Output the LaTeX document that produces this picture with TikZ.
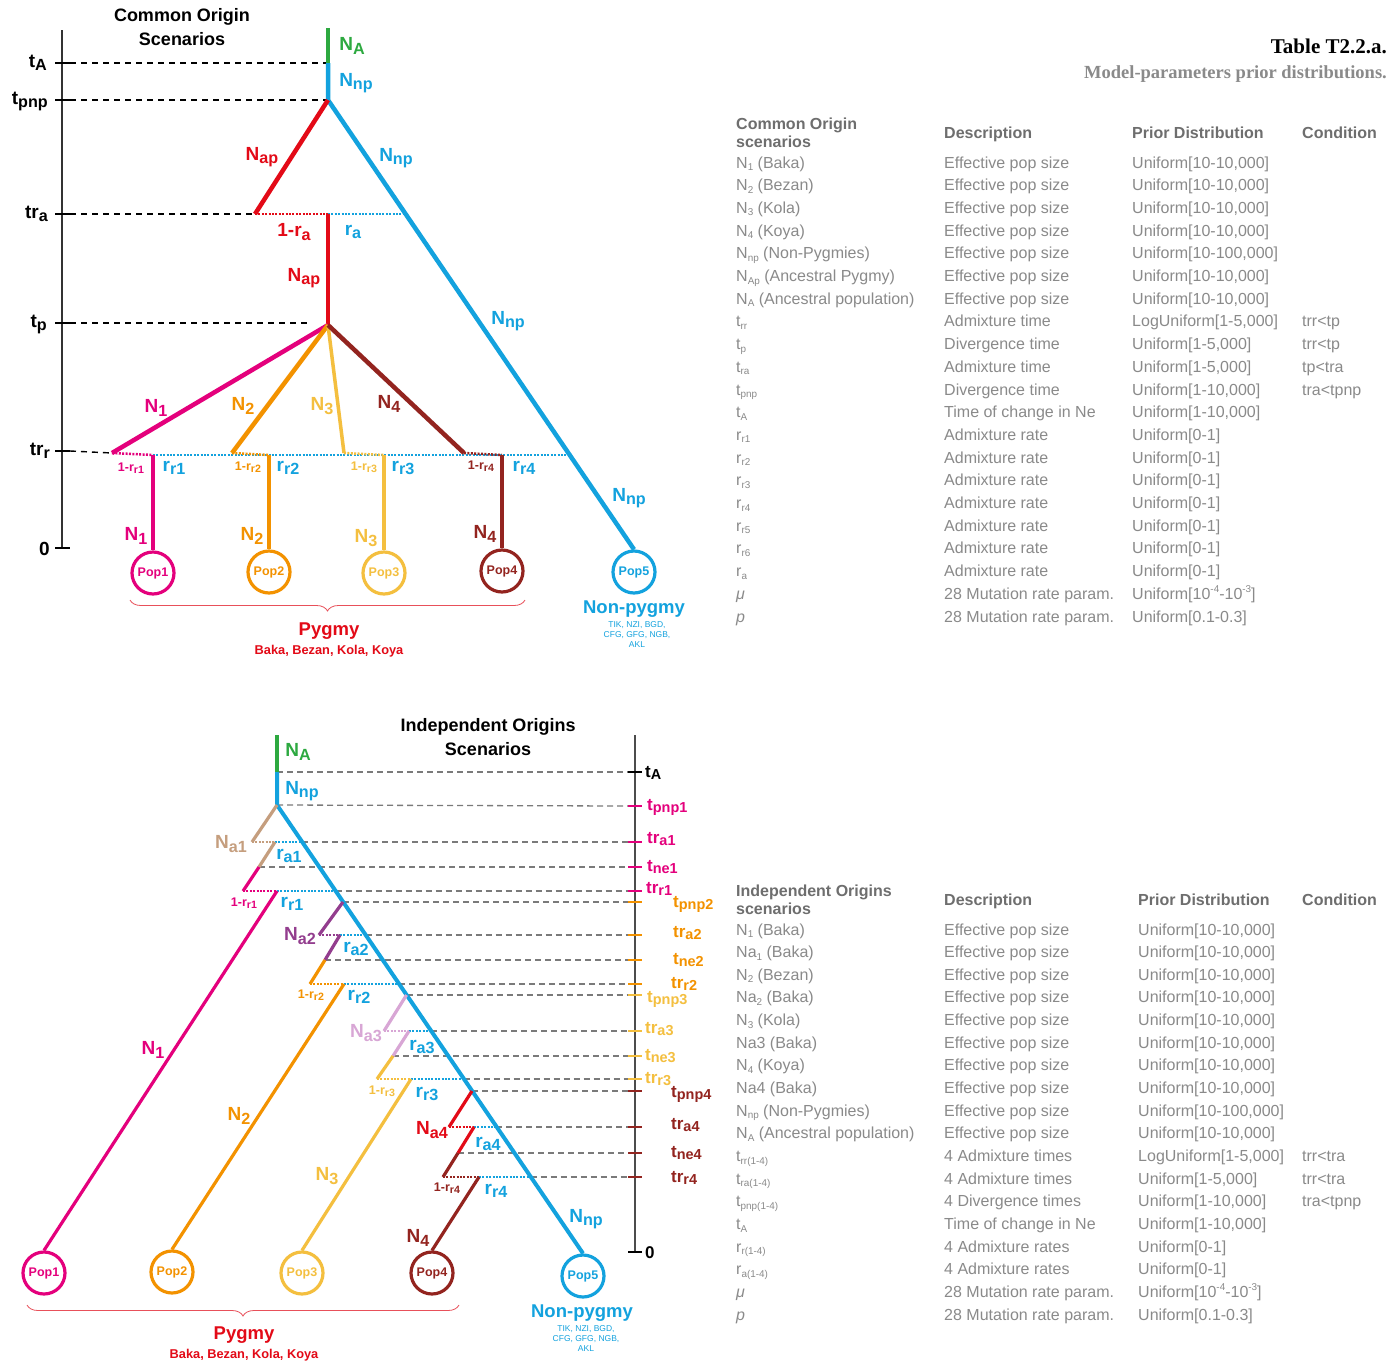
\documentclass[tikz,border=0pt]{standalone}
\usepackage{fontspec}
\setmainfont{Liberation Sans}
\newfontfamily\serifb{Liberation Serif}
\usetikzlibrary{decorations.pathreplacing}
\definecolor{cgreen}{HTML}{2DA940}
\definecolor{cblue}{HTML}{13A2DE}
\definecolor{cred}{HTML}{E30A17}
\definecolor{cpink}{HTML}{E4007C}
\definecolor{corange}{HTML}{F39200}
\definecolor{cyellow}{HTML}{F4BF3F}
\definecolor{cbrown}{HTML}{93241F}
\definecolor{ctan}{HTML}{C59E7E}
\definecolor{cpurple}{HTML}{933D8E}
\definecolor{clav}{HTML}{D8A6D5}
\definecolor{tgray}{HTML}{8A8A8A}
\definecolor{thgray}{HTML}{6E6E6E}
\definecolor{dgray}{HTML}{7A7A7A}
\definecolor{bracered}{HTML}{E8505A}
\newcommand\lo[1]{\raisebox{-0.32ex}{\scalebox{0.85}{#1}}}
\newcommand\tsb[1]{\raisebox{-0.3ex}{\scalebox{0.62}{#1}}}
\newcommand\tsp[1]{\raisebox{0.85ex}{\scalebox{0.62}{#1}}}
\def\px{1132}
\newcommand\trow[5]{%
  \node[tc] (#1p) at (736,#2) {#3};
  \node[tc] (#1d) at (944,#2) {#4};
  \node[tc] (#1u) at (\px,#2) {#5};}
\tikzset{
  lab/.style={font=\fontsize{19}{20}\selectfont\bfseries, inner sep=0},
  blab/.style={font=\fontsize{17}{18}\selectfont\bfseries, inner sep=0},
  glab/.style={font=\fontsize{18.5}{20}\selectfont\bfseries, inner sep=0},
  slab/.style={font=\fontsize{12.5}{13}\selectfont\bfseries, inner sep=0},
  ttl/.style={font=\fontsize{18}{20}\selectfont\bfseries, inner sep=0},
  tc/.style={anchor=base west, inner sep=0, text=tgray, font=\fontsize{16}{18}\selectfont},
  th/.style={anchor=base west, inner sep=0, text=thgray, font=\fontsize{16}{18}\selectfont\bfseries},
  pop/.style={circle, draw=#1, text=#1, line width=3.2, minimum size=42, inner sep=0, font=\fontsize{12.5}{13}\selectfont\bfseries},
  br/.style={line width=4.5},
  bb/.style={line width=3.2},
  dt/.style={line width=2.5, dash pattern=on 2pt off 1.4pt},
  dsh/.style={black, line width=1.4, dash pattern=on 6pt off 5pt},
  gdsh/.style={dgray, line width=1.3, dash pattern=on 6pt off 4pt},
  tick/.style={line width=1.6},
  smallc/.style={font=\fontsize{12.8}{13}\selectfont\bfseries, text=cred, inner sep=0},
  tinyc/.style={font=\fontsize{8.5}{10}\selectfont, text=cblue, align=center, inner sep=0},
}
\begin{document}
\begin{tikzpicture}[x=1pt,y=-1pt]
\useasboundingbox (0,0) rectangle (1398,1363);
\fill[white] (0,0) rectangle (1398,1363);

%%%%%%%%%%%%%%%% TOP DIAGRAM %%%%%%%%%%%%%%%%
\node[ttl] (ttop1) at (182,17) {Common Origin};
\node[ttl] (ttop2) at (182,39) {Scenarios};

% axis
\coordinate (ax0) at (62,30);
\coordinate (ax1) at (62,548);
\draw[line width=1.2, black!80] (ax0) -- (ax1);
\foreach \yy in {63,100,214,323,451,548} \draw[tick] (55,\yy) -- (70,\yy);
\node[lab, anchor=base east] (ltA) at (47,67) {t\lo{A}};
\node[lab, anchor=base east] (ltpnp) at (48,104) {t\lo{pnp}};
\node[lab, anchor=base east] (ltra) at (48,218) {tr\lo{a}};
\node[lab, anchor=base east] (ltp) at (47,327) {t\lo{p}};
\node[lab, anchor=base east] (ltrr) at (50,455) {tr\lo{r}};
\node[lab, anchor=base east] (lt0) at (50,555) {0};

% pops
\node[pop=cpink] (p1) at (153,573) {Pop1};
\node[pop=corange] (p2) at (269,572) {Pop2};
\node[pop=cyellow] (p3) at (384,573) {Pop3};
\node[pop=cbrown] (p4) at (502,571) {Pop4};
\node[pop=cblue] (p5) at (634,572) {Pop5};

% tree coordinates
\coordinate (A0) at (328,28);
\coordinate (A1) at (328,63);
\coordinate (P0) at (328,100);
\coordinate (Ra) at (255,214);
\coordinate (Rm) at (328,214);
\coordinate (Rb) at (405.5,214);
\coordinate (Tp) at (328,325);
\coordinate (E1) at (112,453);
\coordinate (E2) at (232,453);
\coordinate (E3) at (344,453);
\coordinate (E4) at (464,453);
\coordinate (V1) at (153,455);
\coordinate (V2) at (269,455);
\coordinate (V3) at (384,455);
\coordinate (V4) at (502,455);
\coordinate (Bt) at (569,455);

% dashed time lines
\draw[dsh] (70,63) -- (A1);
\draw[dsh] (70,100) -- (P0);
\draw[dsh] (70,214) -- (Ra);
\draw[dsh] (70,323) -- (310,323);
\draw[dsh] (70,451) -- (E1);

% dotted admixture
\draw[dt,cred] (Ra) -- (Rm);
\draw[dt,cblue] (Rm) -- (Rb);
\draw[dt,cblue] (V1) -- (Bt);
\draw[dt,cpink] (E1) -- (V1);
\draw[dt,corange] (E2) -- (V2);
\draw[dt,cyellow] (E3) -- (V3);
\draw[dt,cbrown] (E4) -- (V4);

% branches
\draw[br,cgreen] (A0) -- (A1);
\draw[br,cblue,line join=round] (A1) -- (P0) -- (p5.north);
\draw[br,cred] (P0) -- (Ra);
\draw[br,cred] (Rm) -- (Tp);
\draw[br,cpink] (Tp) -- (E1);
\draw[br,corange] (Tp) -- (E2);
\draw[line width=3.5,cyellow] (Tp) -- (E3);
\draw[br,cbrown] (Tp) -- (E4);
\draw[br,cpink] (V1) -- (p1.north);
\draw[br,corange] (V2) -- (p2.north);
\draw[br,cyellow] (V3) -- (p3.north);
\draw[br,cbrown] (V4) -- (p4.north);

% labels
\node[lab,text=cgreen] (lNA) at (352,46) {N\lo{A}};
\node[lab,text=cblue] (lNnp0) at (356,83) {N\lo{np}};
\node[lab,text=cred] (lNap1) at (262,157) {N\lo{ap}};
\node[lab,text=cblue] (lNnp1) at (396,158) {N\lo{np}};
\node[lab,text=cred] (l1ra) at (294,232) {1-r\lo{a}};
\node[lab,text=cblue] (lra) at (353,232) {r\lo{a}};
\node[lab,text=cred] (lNap2) at (304,278) {N\lo{ap}};
\node[lab,text=cblue] (lNnp2) at (508,321) {N\lo{np}};
\node[lab,text=cblue] (lNnp3) at (629,498) {N\lo{np}};
\node[lab,text=cpink] (lN1a) at (156,408) {N\lo{1}};
\node[lab,text=corange] (lN2a) at (243,406) {N\lo{2}};
\node[lab,text=cyellow] (lN3a) at (322,406) {N\lo{3}};
\node[lab,text=cbrown] (lN4a) at (389,404) {N\lo{4}};
\node[slab,text=cpink] (l1rr1) at (131,468) {1-r\lo{r1}};
\node[lab,text=cblue] (lrr1) at (174,468) {r\lo{r1}};
\node[slab,text=corange] (l1rr2) at (248,467) {1-r\lo{r2}};
\node[lab,text=cblue] (lrr2) at (288,468) {r\lo{r2}};
\node[slab,text=cyellow] (l1rr3) at (364,467) {1-r\lo{r3}};
\node[lab,text=cblue] (lrr3) at (403,468) {r\lo{r3}};
\node[slab,text=cbrown] (l1rr4) at (481,466) {1-r\lo{r4}};
\node[lab,text=cblue] (lrr4) at (524,468) {r\lo{r4}};
\node[lab,text=cpink] (lN1b) at (136,536) {N\lo{1}};
\node[lab,text=corange] (lN2b) at (252,536) {N\lo{2}};
\node[lab,text=cyellow] (lN3b) at (366,538) {N\lo{3}};
\node[lab,text=cbrown] (lN4b) at (485,534) {N\lo{4}};

\draw[bracered, line width=0.8, decorate, decoration={brace, amplitude=11pt}] (525,600) -- (130,600);
\node[glab,text=cred] (pyg1) at (329,631) {Pygmy};
\node[smallc] (pyg1s) at (329,651) {Baka, Bezan, Kola, Koya};
\node[glab,text=cblue] (np1) at (634,609) {Non-pygmy};
\node[tinyc] (np1s) at (637,635) {TIK, NZI, BGD,\\CFG, GFG, NGB,\\AKL};

%%%%%%%%%%%%%%%% TOP TABLE %%%%%%%%%%%%%%%%
\node[anchor=base east, inner sep=0, font=\serifb\fontsize{21}{22}\selectfont\bfseries] (tt) at (1387,53) {Table T2.2.a.};
\node[anchor=base east, inner sep=0, text=tgray, font=\serifb\fontsize{18.5}{20}\selectfont\bfseries] (tt2) at (1387,78) {Model-parameters prior distributions.};

\node[th] (h1a) at (736,129) {Common Origin};
\node[th] (h1b) at (736,147) {scenarios};
\node[th] (h1c) at (944,138) {Description};
\node[th] (h1d) at (1132,138) {Prior Distribution};
\node[th] (h1e) at (1302,138) {Condition};

\trow{a0}{168}{N\tsb{1} (Baka)}{Effective pop size}{Uniform[10-10,000]}
\trow{a1}{190.7}{N\tsb{2} (Bezan)}{Effective pop size}{Uniform[10-10,000]}
\trow{a2}{213.4}{N\tsb{3} (Kola)}{Effective pop size}{Uniform[10-10,000]}
\trow{a3}{236.1}{N\tsb{4} (Koya)}{Effective pop size}{Uniform[10-10,000]}
\trow{a4}{258.8}{N\tsb{np} (Non-Pygmies)}{Effective pop size}{Uniform[10-100,000]}
\trow{a5}{281.5}{N\tsb{Ap} (Ancestral Pygmy)}{Effective pop size}{Uniform[10-10,000]}
\trow{a6}{304.2}{N\tsb{A} (Ancestral population)}{Effective pop size}{Uniform[10-10,000]}
\trow{a7}{326.9}{t\tsb{rr}}{Admixture time}{LogUniform[1-5,000]}
\trow{a8}{349.6}{t\tsb{p}}{Divergence time}{Uniform[1-5,000]}
\trow{a9}{372.3}{t\tsb{ra}}{Admixture time}{Uniform[1-5,000]}
\trow{a10}{395}{t\tsb{pnp}}{Divergence time}{Uniform[1-10,000]}
\trow{a11}{417.7}{t\tsb{A}}{Time of change in Ne}{Uniform[1-10,000]}
\trow{a12}{440.4}{r\tsb{r1}}{Admixture rate}{Uniform[0-1]}
\trow{a13}{463.1}{r\tsb{r2}}{Admixture rate}{Uniform[0-1]}
\trow{a14}{485.8}{r\tsb{r3}}{Admixture rate}{Uniform[0-1]}
\trow{a15}{508.5}{r\tsb{r4}}{Admixture rate}{Uniform[0-1]}
\trow{a16}{531.2}{r\tsb{r5}}{Admixture rate}{Uniform[0-1]}
\trow{a17}{553.9}{r\tsb{r6}}{Admixture rate}{Uniform[0-1]}
\trow{a18}{576.6}{r\tsb{a}}{Admixture rate}{Uniform[0-1]}
\trow{a19}{599.3}{\textit{μ}}{28 Mutation rate param.}{Uniform[10\tsp{-4}-10\tsp{-3}]}
\trow{a20}{622}{\textit{p}}{28 Mutation rate param.}{Uniform[0.1-0.3]}
\node[tc] (c7) at (1302,326.9) {trr<tp};
\node[tc] (c8) at (1302,349.6) {trr<tp};
\node[tc] (c9) at (1302,372.3) {tp<tra};
\node[tc] (c10) at (1302,395) {tra<tpnp};

%%%%%%%%%%%%%%%% BOTTOM DIAGRAM %%%%%%%%%%%%%%%%
\node[ttl] (tbot1) at (488,727) {Independent Origins};
\node[ttl] (tbot2) at (488,749) {Scenarios};

\coordinate (bx0) at (635,735);
\coordinate (bx1) at (635,1252);
\draw[line width=1.4, black!70] (bx0) -- (bx1);
\draw[tick,black] (628,772) -- (642,772);
\draw[tick,black] (628,1252) -- (642,1252);
\foreach \yy in {806,842,867,891} \draw[tick,cpink] (628,\yy) -- (642,\yy);
\foreach \yy in {902,935,960,984} \draw[tick,corange] (628,\yy) -- (642,\yy);
\foreach \yy in {995,1031,1056,1079} \draw[tick,cyellow] (628,\yy) -- (642,\yy);
\foreach \yy in {1091,1127,1153,1177} \draw[tick,cbrown] (628,\yy) -- (642,\yy);

\node[blab, anchor=base west] (btA) at (645,777) {t\lo{A}};
\node[blab, anchor=base west, text=cpink] (bt1) at (647,810) {t\lo{pnp1}};
\node[blab, anchor=base west, text=cpink] (bt2) at (647,843) {tr\lo{a1}};
\node[blab, anchor=base west, text=cpink] (bt3) at (647,871) {t\lo{ne1}};
\node[blab, anchor=base west, text=cpink] (bt4) at (646,893) {tr\lo{r1}};
\node[blab, anchor=base west, text=corange] (bt5) at (673,907) {t\lo{pnp2}};
\node[blab, anchor=base west, text=corange] (bt6) at (673,937) {tr\lo{a2}};
\node[blab, anchor=base west, text=corange] (bt7) at (673,964) {t\lo{ne2}};
\node[blab, anchor=base west, text=corange] (bt8) at (671,988) {tr\lo{r2}};
\node[blab, anchor=base west, text=cyellow] (bt9) at (647,1002) {t\lo{pnp3}};
\node[blab, anchor=base west, text=cyellow] (bt10) at (645,1033) {tr\lo{a3}};
\node[blab, anchor=base west, text=cyellow] (bt11) at (645,1060) {t\lo{ne3}};
\node[blab, anchor=base west, text=cyellow] (bt12) at (645,1083) {tr\lo{r3}};
\node[blab, anchor=base west, text=cbrown] (bt13) at (671,1097) {t\lo{pnp4}};
\node[blab, anchor=base west, text=cbrown] (bt14) at (671,1129) {tr\lo{a4}};
\node[blab, anchor=base west, text=cbrown] (bt15) at (671,1157) {t\lo{ne4}};
\node[blab, anchor=base west, text=cbrown] (bt16) at (671,1182) {tr\lo{r4}};
\node[blab, anchor=base west] (bt0) at (645,1258) {0};

% pops
\node[pop=cpink] (q1) at (44,1273) {Pop1};
\node[pop=corange] (q2) at (172,1272) {Pop2};
\node[pop=cyellow] (q3) at (302,1273) {Pop3};
\node[pop=cbrown] (q4) at (432,1273) {Pop4};
\node[pop=cblue] (q5) at (583,1276) {Pop5};

% coordinates
\coordinate (B0) at (277,735);
\coordinate (B1) at (277,772);
\coordinate (R1) at (277,805);
\coordinate (a1e) at (252,842);
\coordinate (a1m) at (275,842);
\coordinate (a1b) at (302.2,842);
\coordinate (n1) at (259,867);
\coordinate (r1e) at (243,891);
\coordinate (r1m) at (277,891);
\coordinate (r1b) at (335.6,891);
\coordinate (R2) at (343,902);
\coordinate (a2e) at (319,935);
\coordinate (a2m) at (340,935);
\coordinate (a2b) at (365.6,935);
\coordinate (n2) at (325,960);
\coordinate (r2e) at (310,984);
\coordinate (r2m) at (344,984);
\coordinate (r2b) at (399,984);
\coordinate (R3) at (406.5,995);
\coordinate (a3e) at (384,1031);
\coordinate (a3m) at (409,1031);
\coordinate (a3b) at (431,1031);
\coordinate (n3) at (393,1056);
\coordinate (r3e) at (377,1079);
\coordinate (r3m) at (411,1079);
\coordinate (r3b) at (463.7,1079);
\coordinate (R4) at (472,1091);
\coordinate (a4e) at (449,1127);
\coordinate (a4m) at (474,1127);
\coordinate (a4b) at (496.4,1127);
\coordinate (n4) at (458,1153);
\coordinate (r4e) at (443,1177);
\coordinate (r4m) at (479,1177);
\coordinate (r4b) at (530.5,1177);

% dashed gray
\draw[gdsh] (B1) -- (628,772);
\draw[gdsh] (R1) -- (628,806);
\draw[gdsh] (a1b) -- (628,842);
\draw[gdsh] (n1) -- (628,867);
\draw[gdsh] (r1b) -- (628,891);
\draw[gdsh] (R2) -- (628,902);
\draw[gdsh] (a2b) -- (628,935);
\draw[gdsh] (n2) -- (628,960);
\draw[gdsh] (r2b) -- (628,984);
\draw[gdsh] (R3) -- (628,995);
\draw[gdsh] (a3b) -- (628,1031);
\draw[gdsh] (n3) -- (628,1056);
\draw[gdsh] (r3b) -- (628,1079);
\draw[gdsh] (R4) -- (628,1091);
\draw[gdsh] (a4b) -- (628,1127);
\draw[gdsh] (n4) -- (628,1153);
\draw[gdsh] (r4b) -- (628,1177);

% dotted
\draw[dt,ctan] (a1e) -- (a1m); \draw[dt,cblue] (a1m) -- (a1b);
\draw[dt,cpink] (r1e) -- (r1m); \draw[dt,cblue] (r1m) -- (r1b);
\draw[dt,cpurple] (a2e) -- (a2m); \draw[dt,cblue] (a2m) -- (a2b);
\draw[dt,corange] (r2e) -- (r2m); \draw[dt,cblue] (r2m) -- (r2b);
\draw[dt,clav] (a3e) -- (a3m); \draw[dt,cblue] (a3m) -- (a3b);
\draw[dt,cyellow] (r3e) -- (r3m); \draw[dt,cblue] (r3m) -- (r3b);
\draw[dt,cred] (a4e) -- (a4m); \draw[dt,cblue] (a4m) -- (a4b);
\draw[dt,cbrown] (r4e) -- (r4m); \draw[dt,cblue] (r4m) -- (r4b);

% branches
\draw[bb,cgreen,line width=3.6] (B0) -- (B1);
\draw[cblue,line width=4,line join=round] (B1) -- (R1) -- (q5.north);
\draw[bb,ctan] (R1) -- (a1e);
\draw[bb,ctan] (a1m) -- (n1);
\draw[bb,cpink] (n1) -- (r1e);
\draw[bb,cpink] (r1m) -- (q1.north);
\draw[bb,cpurple] (R2) -- (a2e);
\draw[bb,cpurple] (a2m) -- (n2);
\draw[bb,corange] (n2) -- (r2e);
\draw[bb,corange] (r2m) -- (q2.north);
\draw[bb,clav] (R3) -- (a3e);
\draw[bb,clav] (a3m) -- (n3);
\draw[bb,cyellow] (n3) -- (r3e);
\draw[bb,cyellow] (r3m) -- (q3.north);
\draw[bb,cred] (R4) -- (a4e);
\draw[bb,cred] (a4m) -- (n4);
\draw[bb,cbrown] (n4) -- (r4e);
\draw[bb,cbrown] (r4m) -- (q4.north);

% labels
\node[lab,text=cgreen] (mNA) at (298,752) {N\lo{A}};
\node[lab,text=cblue] (mNnp) at (302,791) {N\lo{np}};
\node[lab,text=ctan] (mNa1) at (231,844) {N\lo{a1}};
\node[lab,text=cblue] (mra1) at (289,856) {r\lo{a1}};
\node[slab,text=cpink] (m1rr1) at (244,903) {1-r\lo{r1}};
\node[lab,text=cblue] (mrr1) at (292,904) {r\lo{r1}};
\node[lab,text=cpurple] (mNa2) at (300,936) {N\lo{a2}};
\node[lab,text=cblue] (mra2) at (356,949) {r\lo{a2}};
\node[slab,text=corange] (m1rr2) at (311,995) {1-r\lo{r2}};
\node[lab,text=cblue] (mrr2) at (359,997) {r\lo{r2}};
\node[lab,text=clav] (mNa3) at (366,1033) {N\lo{a3}};
\node[lab,text=cblue] (mra3) at (422,1047) {r\lo{a3}};
\node[slab,text=cyellow] (m1rr3) at (382,1091) {1-r\lo{r3}};
\node[lab,text=cblue] (mrr3) at (427,1094) {r\lo{r3}};
\node[lab,text=cred] (mNa4) at (432,1130) {N\lo{a4}};
\node[lab,text=cblue] (mra4) at (488,1144) {r\lo{a4}};
\node[slab,text=cbrown] (m1rr4) at (447,1188) {1-r\lo{r4}};
\node[lab,text=cblue] (mrr4) at (496,1191) {r\lo{r4}};
\node[lab,text=cpink] (mN1) at (153,1050) {N\lo{1}};
\node[lab,text=corange] (mN2) at (239,1116) {N\lo{2}};
\node[lab,text=cyellow] (mN3) at (327,1176) {N\lo{3}};
\node[lab,text=cbrown] (mN4) at (418,1238) {N\lo{4}};
\node[lab,text=cblue] (mNnp2) at (586,1219) {N\lo{np}};

\draw[bracered, line width=0.8, decorate, decoration={brace, amplitude=11pt}] (459,1305) -- (27,1305);
\node[glab,text=cred] (pyg2) at (244,1335) {Pygmy};
\node[smallc] (pyg2s) at (244,1355) {Baka, Bezan, Kola, Koya};
\node[glab,text=cblue] (np2) at (582,1313) {Non-pygmy};
\node[tinyc] (np2s) at (586,1339) {TIK, NZI, BGD,\\CFG, GFG, NGB,\\AKL};

%%%%%%%%%%%%%%%% BOTTOM TABLE %%%%%%%%%%%%%%%%
\def\px{1138}
\node[th] (h2a) at (736,896) {Independent Origins};
\node[th] (h2b) at (736,914) {scenarios};
\node[th] (h2c) at (944,905) {Description};
\node[th] (h2d) at (1138,905) {Prior Distribution};
\node[th] (h2e) at (1302,905) {Condition};

\trow{b0}{935}{N\tsb{1} (Baka)}{Effective pop size}{Uniform[10-10,000]}
\trow{b1}{957.65}{Na\tsb{1} (Baka)}{Effective pop size}{Uniform[10-10,000]}
\trow{b2}{980.3}{N\tsb{2} (Bezan)}{Effective pop size}{Uniform[10-10,000]}
\trow{b3}{1002.95}{Na\tsb{2} (Baka)}{Effective pop size}{Uniform[10-10,000]}
\trow{b4}{1025.6}{N\tsb{3} (Kola)}{Effective pop size}{Uniform[10-10,000]}
\trow{b5}{1048.25}{Na3 (Baka)}{Effective pop size}{Uniform[10-10,000]}
\trow{b6}{1070.9}{N\tsb{4} (Koya)}{Effective pop size}{Uniform[10-10,000]}
\trow{b7}{1093.55}{Na4 (Baka)}{Effective pop size}{Uniform[10-10,000]}
\trow{b8}{1116.2}{N\tsb{np} (Non-Pygmies)}{Effective pop size}{Uniform[10-100,000]}
\trow{b9}{1138.85}{N\tsb{A} (Ancestral population)}{Effective pop size}{Uniform[10-10,000]}
\trow{b10}{1161.5}{t\tsb{rr(1-4)}}{4 Admixture times}{LogUniform[1-5,000]}
\trow{b11}{1184.15}{t\tsb{ra(1-4)}}{4 Admixture times}{Uniform[1-5,000]}
\trow{b12}{1206.8}{t\tsb{pnp(1-4)}}{4 Divergence times}{Uniform[1-10,000]}
\trow{b13}{1229.45}{t\tsb{A}}{Time of change in Ne}{Uniform[1-10,000]}
\trow{b14}{1252.1}{r\tsb{r(1-4)}}{4 Admixture rates}{Uniform[0-1]}
\trow{b15}{1274.75}{r\tsb{a(1-4)}}{4 Admixture rates}{Uniform[0-1]}
\trow{b16}{1297.4}{\textit{μ}}{28 Mutation rate param.}{Uniform[10\tsp{-4}-10\tsp{-3}]}
\trow{b17}{1320.05}{\textit{p}}{28 Mutation rate param.}{Uniform[0.1-0.3]}
\node[tc] (d10) at (1302,1161.5) {trr<tra};
\node[tc] (d11) at (1302,1184.15) {trr<tra};
\node[tc] (d12) at (1302,1206.8) {tra<tpnp};
\end{tikzpicture}
\end{document}
